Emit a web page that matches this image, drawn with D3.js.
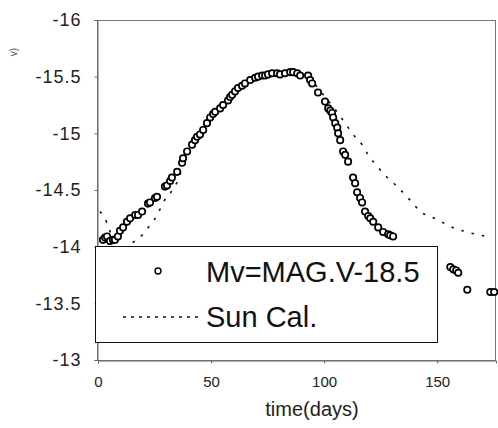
<!DOCTYPE html>
<html>
<head>
<meta charset="utf-8">
<script src="https://cdn.jsdelivr.net/npm/d3@7"></script>
<style>
  body { margin: 0; background: #fff; }
  #chart { width: 498px; height: 428px; }
  text { font-family: "Liberation Sans", Arial, sans-serif; }
</style>
</head>
<body>
<div id="chart"></div>
<script>
// observed magnitudes: [day, Mv]
const obsDays = [2.2, 3.1, 4.0, 5.3, 6.6, 7.5, 8.8, 9.7, 11.1, 12.8, 14.2, 16.4, 17.7, 19.5, 22.1, 23.0, 25.2, 26.1,
  29.6, 30.5, 31.9, 32.7, 35.0, 37.2, 37.6, 39.4, 41.6, 42.9, 43.8, 45.1, 46.5, 48.2, 49.6, 50.9, 51.8, 54.0,
  55.3, 57.5, 58.4, 59.3, 60.6, 61.9, 63.7, 65.0, 67.3, 69.5, 70.8, 72.6, 73.9, 75.2, 77.0, 79.2, 80.5, 82.7,
  85.0, 86.3, 88.1, 89.4, 92.9, 93.8, 94.7, 97.3, 100.4, 101.8, 102.7, 103.5, 104.0, 104.9, 105.8, 106.2,
  107.1, 108.4, 109.3, 110.6, 112.8, 113.7, 114.6, 115.9, 116.8, 118.1, 119.5, 120.4, 121.7, 123.9, 126.1,
  128.3, 129.2, 130.5, 155.8, 157.1, 158.4, 159.3, 163.3, 173.5, 175.2];
const obsMag = [-14.06, -14.08, -14.09, -14.05, -14.06, -14.06, -14.09, -14.14, -14.17, -14.22, -14.25, -14.28, -14.28, -14.31, -14.38, -14.39, -14.43, -14.44,
  -14.53, -14.54, -14.58, -14.61, -14.66, -14.74, -14.78, -14.84, -14.90, -14.94, -14.97, -14.99, -15.03, -15.09, -15.14, -15.17, -15.19, -15.22,
  -15.25, -15.29, -15.32, -15.34, -15.37, -15.40, -15.42, -15.44, -15.47, -15.49, -15.50, -15.51, -15.51, -15.52, -15.53, -15.53, -15.52, -15.53,
  -15.54, -15.54, -15.53, -15.51, -15.51, -15.47, -15.44, -15.36, -15.28, -15.22, -15.20, -15.18, -15.14, -15.09, -15.05, -15.00,
  -14.94, -14.84, -14.81, -14.75, -14.61, -14.56, -14.48, -14.43, -14.39, -14.31, -14.27, -14.25, -14.22, -14.17, -14.13,
  -14.11, -14.10, -14.09, -13.82, -13.80, -13.79, -13.77, -13.62, -13.60, -13.60];

// model light curve ("Sun Cal.")
const calDays = [0.9, 4.0, 8.8, 15.0, 19.9, 23.0, 26.5, 28.8, 31.9, 35.0, 38.5, 41.6, 45.1, 49.6, 54.0, 60.6, 67.3,
  73.9, 80.5, 87.2, 91.6, 96.0, 100.4, 104.9, 109.3, 112.8, 116.8, 119.5, 123.9, 127.9, 132.3, 138.9, 142.5,
  147.8, 152.7, 158.0, 163.3, 169.0, 174.3];
const calMag = [-14.31, -14.21, -13.95, -14.03, -14.11, -14.19, -14.29, -14.39, -14.47, -14.57, -14.76, -14.88, -14.99, -15.13, -15.22, -15.36, -15.46,
  -15.51, -15.52, -15.53, -15.50, -15.43, -15.32, -15.21, -15.09, -14.99, -14.90, -14.81, -14.70, -14.61, -14.53, -14.39, -14.31,
  -14.26, -14.21, -14.16, -14.13, -14.10, -14.09];

const xTicks = [0, 50, 100, 150];
const yTicks = [-16, -15.5, -15, -14.5, -14, -13.5, -13];
const legendLabels = ["Mv=MAG.V-18.5", "Sun Cal."];

const width = 498, height = 428;
const margin = { left: 97, right: 2, top: 20, bottom: 68 };

const svg = d3.select("#chart").append("svg")
  .attr("width", width)
  .attr("height", height);

const xScale = d3.scaleLinear().domain([0, 176]).range([margin.left + 1, width - margin.right]);
const yScale = d3.scaleLinear().domain([-16, -13]).range([margin.top, height - margin.bottom]);

// frame
svg.append("rect")
  .attr("x", margin.left + 0.5).attr("y", margin.top + 0.5)
  .attr("width", width - margin.right - margin.left - 1)
  .attr("height", height - margin.bottom - margin.top)
  .attr("fill", "none").attr("stroke", "#777");

// axes
const yAxis = svg.append("g")
  .attr("transform", `translate(${margin.left + 0.5},0)`)
  .call(d3.axisLeft(yScale).tickValues(yTicks).tickSize(3).tickPadding(13).tickFormat(d => d));
yAxis.select(".domain").attr("stroke", "#666");
yAxis.selectAll(".tick line").attr("stroke", "#666");
yAxis.selectAll("text")
  .attr("font-size", 18).attr("fill", "#222")
  .attr("letter-spacing", 1)
  .attr("font-family", "Liberation Sans, Arial, sans-serif");

const xAxis = svg.append("g")
  .attr("transform", `translate(0,${height - margin.bottom + 0.5})`)
  .call(d3.axisBottom(xScale).tickValues(xTicks).tickSize(3).tickPadding(13));
xAxis.select(".domain").attr("stroke", "#666");
xAxis.selectAll(".tick line").attr("stroke", "#666");
xAxis.selectAll("text")
  .attr("font-size", 15).attr("fill", "#222")
  .attr("font-family", "Liberation Sans, Arial, sans-serif");

// axis titles
svg.append("text")
  .attr("x", 312).attr("y", 416)
  .attr("text-anchor", "middle")
  .attr("font-size", 20).attr("fill", "#222")
  .text("time(days)");

svg.append("text")
  .attr("transform", "translate(17,52) rotate(-90)")
  .attr("text-anchor", "middle")
  .attr("font-size", 10).attr("fill", "#555")
  .text("v)");

// model curve
const calData = calDays.map((d, i) => [d, calMag[i]]);
const calLine = d3.line()
  .x(d => xScale(d[0]))
  .y(d => yScale(d[1]))
  .curve(d3.curveMonotoneX);
svg.append("path")
  .datum(calData)
  .attr("fill", "none")
  .attr("stroke", "#111")
  .attr("stroke-width", 1.6)
  .attr("stroke-dasharray", "2.5,8")
  .attr("d", calLine);

// observations
const obsData = obsDays.map((d, i) => [d, obsMag[i]]);
svg.append("g")
  .selectAll("circle")
  .data(obsData)
  .enter()
  .append("circle")
    .attr("cx", d => xScale(d[0]))
    .attr("cy", d => yScale(d[1]))
    .attr("r", 3.2)
    .attr("fill", "#fff")
    .attr("stroke", "#000")
    .attr("stroke-width", 1.7);

// legend
const lg = svg.append("g");
lg.append("rect")
  .attr("x", 95.5).attr("y", 246.5)
  .attr("width", 342).attr("height", 96)
  .attr("fill", "#fff").attr("stroke", "#111").attr("stroke-width", 1);
lg.append("circle")
  .attr("cx", 158).attr("cy", 271).attr("r", 3)
  .attr("fill", "#fff").attr("stroke", "#000").attr("stroke-width", 1.4);
lg.append("line")
  .attr("x1", 123).attr("x2", 201).attr("y1", 317).attr("y2", 317)
  .attr("stroke", "#111").attr("stroke-width", 1.3)
  .attr("stroke-dasharray", "3,5");
lg.selectAll("text.lab")
  .data(legendLabels)
  .enter()
  .append("text")
    .attr("class", "lab")
    .attr("x", 206)
    .attr("y", (d, i) => 282 + i * 45)
    .attr("font-size", 29)
    .attr("fill", "#111")
    .text(d => d);
</script>
</body>
</html>
